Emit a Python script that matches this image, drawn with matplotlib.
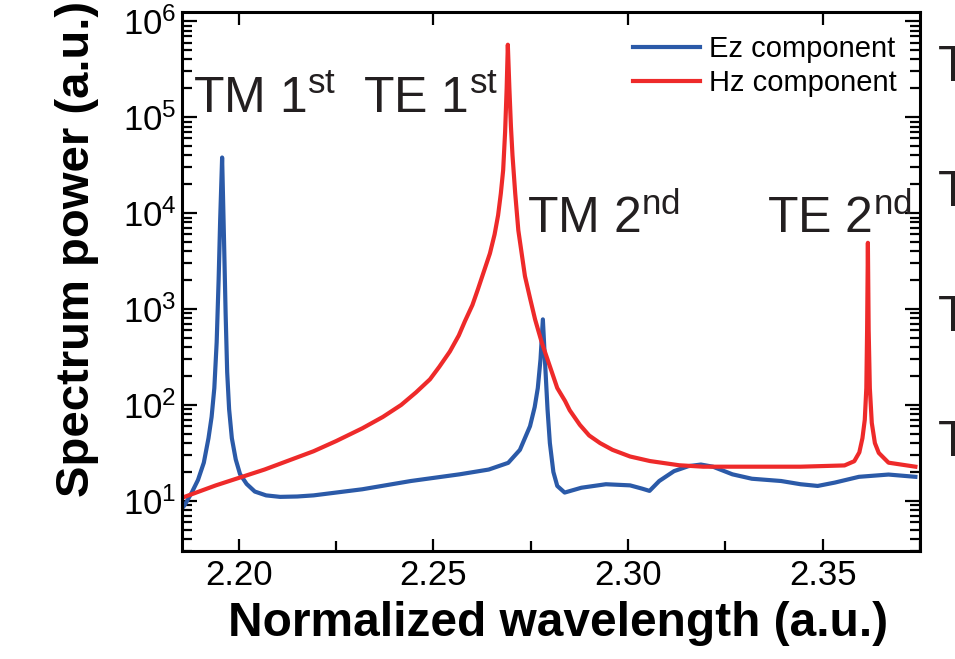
import numpy as np
import matplotlib
matplotlib.use("Agg")
import matplotlib.pyplot as plt
from matplotlib.ticker import MultipleLocator, LogLocator, NullFormatter

plt.rcParams['font.family'] = ['Liberation Sans', 'DejaVu Sans']
plt.rcParams['mathtext.fontset'] = 'custom'
plt.rcParams['mathtext.rm'] = 'Liberation Sans'
plt.rcParams['mathtext.it'] = 'Liberation Sans:italic'
plt.rcParams['mathtext.bf'] = 'Liberation Sans:bold'

# Ez component (blue)
wl_ez = [2.1844, 2.1862, 2.1879, 2.1895, 2.1910, 2.1922, 2.1930, 2.1937, 2.1943,
         2.1948, 2.1952, 2.1957, 2.1962, 2.1966, 2.1970, 2.1975, 2.1982, 2.1992,
         2.2003, 2.2020, 2.2041, 2.2070, 2.2106, 2.2150, 2.2192, 2.2317, 2.2442,
         2.2567, 2.2642, 2.2692, 2.2722, 2.2748, 2.2760, 2.2768, 2.2775, 2.2781,
         2.2787, 2.2793, 2.2799, 2.2808, 2.2818, 2.2837, 2.2880, 2.2943, 2.3005,
         2.3036, 2.3055, 2.3080, 2.3118, 2.3155, 2.3187, 2.3218, 2.3268, 2.3318,
         2.3393, 2.3443, 2.3487, 2.3531, 2.3593, 2.3669, 2.3738]
ez = [7.3, 9.2, 12.2, 16.5, 25, 45, 75, 150, 450,
      2000, 8500, 38000, 5000, 900, 220, 90, 45, 27,
      19, 15, 12.5, 11.4, 11.0, 11.1, 11.4, 13.2, 16.1,
      18.9, 21.2, 24.9, 34, 60, 95, 150, 300, 780,
      260, 90, 40, 20, 14.3, 12.2, 13.7, 14.9, 14.5,
      13.4, 12.7, 16.1, 20.4, 23, 23.9, 22.7, 18.9, 17,
      16.1, 14.9, 14.3, 15.5, 17.8, 18.8, 17.8]

# Hz component (red)
wl_hz = [2.1844, 2.1941, 2.2066, 2.2192, 2.2250, 2.2317, 2.2370, 2.2417, 2.2455,
         2.2491, 2.2515, 2.2542, 2.2565, 2.2581, 2.2600, 2.2614, 2.2630, 2.2645,
         2.2657, 2.2666, 2.2673, 2.2679, 2.2684, 2.2688, 2.2691, 2.2695, 2.2699,
         2.2703, 2.2710, 2.2718, 2.2735, 2.2748, 2.2761, 2.2778, 2.2794, 2.2818,
         2.2838, 2.2850, 2.2876, 2.2900, 2.2928, 2.2960, 2.3005, 2.3056, 2.3131,
         2.3193, 2.3318, 2.3443, 2.3556, 2.3581, 2.3594, 2.3602, 2.3608, 2.3612,
         2.3614, 2.3616, 2.3618, 2.3621, 2.3626, 2.3634, 2.3644, 2.3669, 2.3738]
hz = [10.4, 14.5, 21.2, 32.9, 42, 57, 75, 100, 135,
      185, 250, 360, 530, 750, 1100, 1600, 2500, 3800,
      6000, 9500, 16000, 28000, 70000, 200000, 570000, 200000, 80000,
      40000, 16000, 6600, 2200, 1300, 780, 450, 290, 150,
      110, 88, 62, 48, 40, 34, 29, 26, 23.5,
      22.7, 22.7, 22.7, 23.4, 25.9, 32, 45, 70, 150,
      600, 4900, 600, 150, 65, 40, 31.6, 25, 22.7]

peak_labels = [r'TM 1$^{\mathrm{st}}$', r'TE 1$^{\mathrm{st}}$',
               r'TM 2$^{\mathrm{nd}}$', r'TE 2$^{\mathrm{nd}}$']

blue = '#2b5aa8'
red = '#ee2a2a'
txt = '#231f20'

fig = plt.figure(figsize=(9.55, 6.59), dpi=100)
ax = fig.add_axes([0.1906, 0.1639, 0.7728, 0.8179])

ax.plot(wl_ez, ez, color=blue, lw=3.0, label='Ez component', solid_joinstyle='round')
ax.plot(wl_hz, hz, color=red, lw=3.0, label='Hz component', solid_joinstyle='round')

ax.set_yscale('log')
ax.set_xlim(2.1854, 2.375)
ax.set_ylim(3.0, 10 ** 6.097)

ax.xaxis.set_major_locator(MultipleLocator(0.05))
ax.xaxis.set_minor_locator(MultipleLocator(0.025))
ax.xaxis.set_major_formatter(plt.FormatStrFormatter('%.2f'))
ax.yaxis.set_major_locator(LogLocator(base=10, numticks=10))
ax.yaxis.set_minor_locator(LogLocator(base=10, subs=np.arange(2, 10), numticks=20))
ax.yaxis.set_minor_formatter(NullFormatter())

ax.tick_params(which='both', direction='in', top=True, right=True, width=1.6)
ax.tick_params(which='major', length=9, labelsize=25, pad=6)
ax.tick_params(which='minor', length=7)
ax.xaxis.set_tick_params(which='minor', top=False)
ax.tick_params(axis='y', which='major', length=11, pad=4)
for s in ax.spines.values():
    s.set_linewidth(2.2)

ax.set_xlabel('Normalized wavelength (a.u.)', fontsize=34.5, fontweight='bold')
ax.xaxis.set_label_coords(0.5095, -0.093)
ax.set_ylabel('Spectrum power (a.u.)', fontsize=34, fontweight='bold')
ax.yaxis.set_label_coords(-0.113, 0.56)

ax.legend(loc='upper right', frameon=False, fontsize=21, handlelength=2.3,
          handletextpad=0.3, labelspacing=0.2, borderaxespad=0.4)

lab_pos = [(0.0149, 0.8145), (0.245, 0.8145), (0.4675, 0.59), (0.7927, 0.59)]
for (px, py), s in zip(lab_pos, peak_labels):
    ax.text(px, py, s, transform=ax.transAxes, fontsize=36, color=txt,
            ha='left', va='baseline')

# cut-off letters from the neighbouring panel
for yb in [81, 206, 331, 456]:
    fig.text(938 / 955, 1 - yb / 659, 'T', fontsize=36, color=txt,
             ha='left', va='baseline')

fig.savefig('out.png', dpi=100)
